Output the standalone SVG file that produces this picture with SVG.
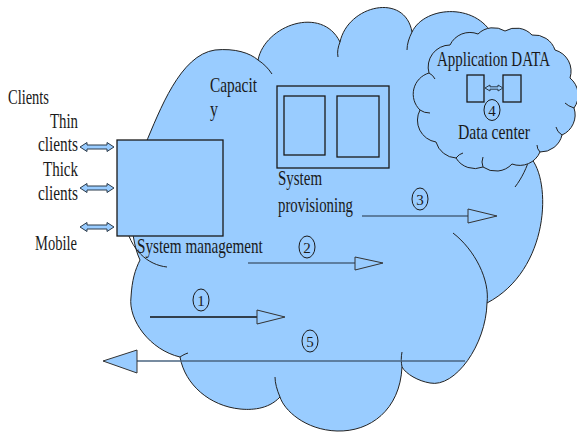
<svg xmlns="http://www.w3.org/2000/svg" width="577" height="432" viewBox="0 0 577 432">
<style>
.cloud{fill:#99ccff;stroke:#222;stroke-width:1}
.inner{fill:none;stroke:#222;stroke-width:1}
.box{fill:#99ccff;stroke:#1a1a1a;stroke-width:1.3}
.box2{fill:none;stroke:#1a1a1a;stroke-width:1.3}
.t{font-family:"Liberation Serif","Times New Roman",serif;font-size:21px;fill:#1a1a1a}
.num{font-family:"Liberation Serif","Times New Roman",serif;font-size:15px;fill:#1a1a1a;text-anchor:middle}
.circ{fill:none;stroke:#1a1a1a;stroke-width:1}
.ln{stroke:#4a6580;stroke-width:1.5;fill:none}
.ln1{stroke:#111;stroke-width:1.5;fill:none}
.head{fill:#99ccff;stroke:#333;stroke-width:1}
.dbl{fill:#99ccff;stroke:#2a3a4a;stroke-width:1}
</style>
<defs>
<path id="dbl" d="M0,0 L7,-4.5 L7,-2 L27,-2 L27,-4.5 L34,0 L27,4.5 L27,2 L7,2 L7,4.5 Z"/>
</defs>
<g id="main-cloud">
<path class="cloud" d="M140,260 C128,235 128,180 145,145 C160,110 180,55 215,50 C235,48 250,53 258,60 C265,25 322,5 340,42 C348,5 405,-8 412,32 C425,5 480,2 495,40 C520,60 535,120 530,157 C552,180 550,270 487,303 C486,345 455,388 430,383 C418,381 406,374 402,367 C400,410 370,432 337,431 C305,430 284,410 280,397 C268,410 250,410 240,409 C210,406 185,385 180,357 C150,350 128,320 131,297 C132,280 135,270 140,260 Z"/>
<path class="inner" d="M125,222 C130,250 148,265 167,267"/>
<path class="inner" d="M258,60 C264,64 268,68 272,74"/>
<path class="inner" d="M340,42 C338,47 337,52 338,57"/>
<path class="inner" d="M412,32 C409,38 407,44 407,50"/>
<path class="inner" d="M530,157 C527,167 522,178 515,187"/>
<path class="inner" d="M453,233 C475,250 490,280 487,303"/>
<path class="inner" d="M402,367 C401,362 401,357 402,352"/>
<path class="inner" d="M280,397 C277,390 275,383 275,377"/>
<path class="inner" d="M180,357 C183,355 185,354 188,353"/>
</g>
<g id="data-center">
<path class="cloud" d="M420,110 A22,22 0 0 1 429,73 A22,22 0 0 1 450,45 A22,22 0 0 1 478,34 A22,22 0 0 1 505,31 A22,22 0 0 1 532,35 A22,22 0 0 1 555,50 A22,22 0 0 1 570,78 A22,22 0 0 1 574,108 A22,22 0 0 1 562,135 A22,22 0 0 1 540,152 A22,22 0 0 1 512,164 A22,22 0 0 1 483,167 A22,22 0 0 1 456,158 A22,22 0 0 1 436,142 A22,22 0 0 1 420,110 Z"/>
<path class="inner" d="M420,110 q4,3 10,3"/>
<path class="inner" d="M429,73 q4,2 6,6"/>
<path class="inner" d="M562,135 q-5,-3 -6,-8"/>
<path class="inner" d="M574,108 q-6,-2 -9,-5"/>
<path class="inner" d="M540,152 q-3,-3 -3,-7"/>
<path class="inner" d="M483,167 q-2,-5 0,-10"/>
<path class="inner" d="M456,158 q3,-4 7,-5"/>
<rect class="box2" x="467" y="75" width="17" height="27"/>
<rect class="box2" x="503" y="75" width="18" height="27"/>
<path class="dbl" d="M485,88 L490,85 L490,86.8 L498,86.8 L498,85 L503,88 L498,91 L498,89.2 L490,89.2 L490,91 Z"/>
<text class="t" transform="translate(437,66) scale(0.713,1)">Application DATA</text>
<ellipse class="circ" cx="492" cy="110" rx="8" ry="10.5"/>
<text class="num" x="492" y="115.5">4</text>
<text class="t" x="458" y="139" textLength="72" lengthAdjust="spacingAndGlyphs">Data center</text>
</g>
<g id="clients">
<text class="t" x="8" y="104" textLength="41" lengthAdjust="spacingAndGlyphs">Clients</text>
<text class="t" x="50" y="128" textLength="28" lengthAdjust="spacingAndGlyphs">Thin</text>
<text class="t" x="38" y="151" textLength="40" lengthAdjust="spacingAndGlyphs">clients</text>
<text class="t" x="43" y="176" textLength="35" lengthAdjust="spacingAndGlyphs">Thick</text>
<text class="t" x="38" y="200" textLength="40" lengthAdjust="spacingAndGlyphs">clients</text>
<text class="t" x="35" y="250" textLength="42" lengthAdjust="spacingAndGlyphs">Mobile</text>
</g>
<g id="system-management">
<rect class="box" x="117" y="140" width="106" height="96"/>
<text class="t" transform="translate(137,253) scale(0.722,1)">System management</text>
</g>
<g id="capacity">
<text class="t" x="210" y="92" textLength="47" lengthAdjust="spacingAndGlyphs">Capacit</text>
<text class="t" x="210" y="116" textLength="8" lengthAdjust="spacingAndGlyphs">y</text>
</g>
<g id="system-provisioning">
<rect class="box2" x="277" y="86" width="112" height="82"/>
<rect class="box2" x="284" y="96" width="41" height="59"/>
<rect class="box2" x="337" y="96" width="42" height="61"/>
<text class="t" x="278" y="185" textLength="44" lengthAdjust="spacingAndGlyphs">System</text>
<text class="t" x="278" y="212" textLength="75" lengthAdjust="spacingAndGlyphs">provisioning</text>
</g>
<g id="connectors">
<use href="#dbl" class="dbl" x="80" y="147"/>
<use href="#dbl" class="dbl" x="80" y="188"/>
<use href="#dbl" class="dbl" x="80" y="227"/>
<line class="ln1" x1="150" y1="317" x2="257" y2="317"/>
<polygon class="head" points="257,310 285,317 257,324"/>
<ellipse class="circ" cx="201" cy="300" rx="8" ry="11"/>
<text class="num" x="201" y="305.5">1</text>
<line class="ln" x1="248" y1="263" x2="355" y2="263"/>
<polygon class="head" points="355,257 383,263 355,270"/>
<ellipse class="circ" cx="307" cy="247" rx="8" ry="11"/>
<text class="num" x="307" y="252.5">2</text>
<line class="ln" x1="362" y1="216" x2="468" y2="216"/>
<polygon class="head" points="468,209 497,216 468,223"/>
<ellipse class="circ" cx="420" cy="199" rx="8" ry="11"/>
<text class="num" x="420" y="204.5">3</text>
<line class="ln" x1="465" y1="361" x2="137" y2="361"/>
<polygon class="head" points="137,350 103,361 137,373"/>
<ellipse class="circ" cx="310" cy="341" rx="8" ry="11"/>
<text class="num" x="310" y="346.5">5</text>
</g>
</svg>
